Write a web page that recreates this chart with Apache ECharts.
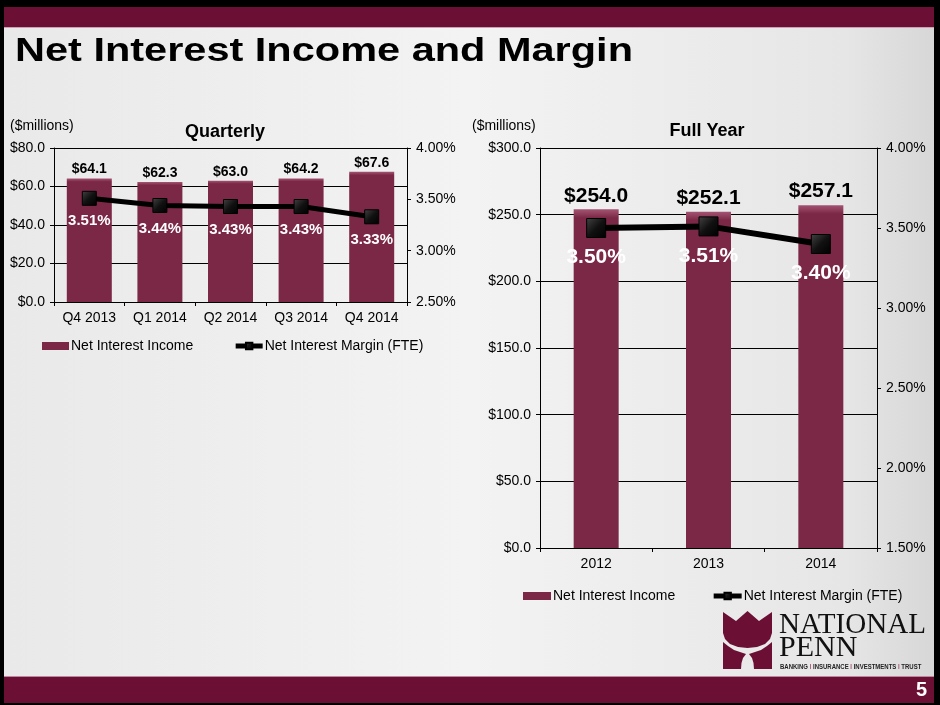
<!DOCTYPE html>
<html>
<head>
<meta charset="utf-8">
<title>Net Interest Income and Margin</title>
<script src="https://cdn.jsdelivr.net/npm/echarts@6/dist/echarts.min.js"></script>
<style>
  html, body { margin: 0; padding: 0; background: #000; }
  #chart { width: 940px; height: 705px; }
</style>
</head>
<body>
<div id="chart"></div>
<script>
// quarterly data
var quarters = ['Q4 2013', 'Q1 2014', 'Q2 2014', 'Q3 2014', 'Q4 2014'];
var quarterlyIncome = [64.1, 62.3, 63.0, 64.2, 67.6];
var quarterlyMargin = [3.51, 3.44, 3.43, 3.43, 3.33];

// full year data
var years = ['2012', '2013', '2014'];
var yearlyIncome = [254.0, 252.1, 257.1];
var yearlyMargin = [3.50, 3.51, 3.40];

var MAROON = '#6c0f35';
var BAR = '#7b2846';
var FONT = 'Liberation Sans, Arial, sans-serif';

function money(v) { return '$' + v.toFixed(1); }
function pct(v) { return v.toFixed(2) + '%'; }

var barColor = new echarts.graphic.LinearGradient(0, 0, 0, 1, [
    { offset: 0, color: '#a35472' },
    { offset: 0.025, color: BAR },
    { offset: 1, color: BAR }
]);

var markColor = new echarts.graphic.LinearGradient(0, 0, 1, 1, [
    { offset: 0, color: '#444' },
    { offset: 0.5, color: '#111' },
    { offset: 1, color: '#000' }
]);

function axisX(grid, data) {
    return {
        type: 'category', gridIndex: grid, data: data,
        axisLine: { lineStyle: { color: '#000', width: 1 } },
        axisTick: { show: true, length: 4, lineStyle: { color: '#000' } },
        axisLabel: { color: '#000', fontSize: 14, fontFamily: FONT, margin: 9 },
        splitLine: { show: false }
    };
}

function axisMoney(grid, max, step) {
    return {
        type: 'value', gridIndex: grid, min: 0, max: max, interval: step,
        axisLine: { show: true, lineStyle: { color: '#000' } },
        axisTick: { show: true, length: 4, lineStyle: { color: '#000' } },
        axisLabel: { color: '#000', fontSize: 14, fontFamily: FONT, margin: 9, formatter: money },
        splitLine: { show: true, lineStyle: { color: '#000', width: 1 } }
    };
}

function axisPct(grid, min, max) {
    return {
        type: 'value', gridIndex: grid, position: 'right', min: min, max: max, interval: 0.5,
        axisLine: { show: true, lineStyle: { color: '#000' } },
        axisTick: { show: true, length: 4, lineStyle: { color: '#000' } },
        axisLabel: { color: '#000', fontSize: 14, fontFamily: FONT, margin: 9, formatter: pct },
        splitLine: { show: false }
    };
}

var chart = echarts.init(document.getElementById('chart'), null, { renderer: 'canvas' });

var legendText = { color: '#000', fontSize: 14, fontFamily: FONT, padding: [0, 0, 0, -3] };
var legendItems = [
    { name: 'Net Interest Income', icon: 'rect' },
    { name: 'Net Interest Margin (FTE)' }
];

var option = {
    animation: false,
    backgroundColor: new echarts.graphic.LinearGradient(0, 0, 1, 0, [
        { offset: 0, color: '#e9e9e9' },
        { offset: 0.5, color: '#f3f3f3' },
        { offset: 0.9, color: '#e6e6e6' },
        { offset: 1, color: '#d6d6d6' }
    ]),
    textStyle: { fontFamily: FONT },
    grid: [
        { left: 54, top: 148, width: 353, height: 154 },
        { left: 540, top: 148, width: 337, height: 400 }
    ],
    xAxis: [axisX(0, quarters), axisX(1, years)],
    yAxis: [
        axisMoney(0, 80, 20),
        axisPct(0, 2.5, 4.0),
        axisMoney(1, 300, 50),
        axisPct(1, 1.5, 4.0)
    ],
    legend: [
        {
            left: 37, top: 334, itemWidth: 27, itemHeight: 8, itemGap: 40,
            lineStyle: { width: 5, color: '#000' },
            textStyle: legendText,
            data: legendItems
        },
        {
            left: 518, top: 584, itemWidth: 28, itemHeight: 8, itemGap: 36,
            lineStyle: { width: 5, color: '#000' },
            textStyle: legendText,
            data: legendItems
        }
    ],
    series: [
        {
            name: 'Net Interest Income', type: 'bar', xAxisIndex: 0, yAxisIndex: 0,
            data: quarterlyIncome, barWidth: 45,
            itemStyle: { color: barColor },
            label: {
                show: true, position: 'top', distance: 2, color: '#000',
                fontSize: 14, fontWeight: 'bold', fontFamily: FONT,
                formatter: function (p) { return money(p.value); }
            }
        },
        {
            name: 'Net Interest Margin (FTE)', type: 'line', xAxisIndex: 0, yAxisIndex: 1,
            data: quarterlyMargin, symbol: 'rect', symbolSize: 14,
            lineStyle: { color: '#000', width: 5 },
            itemStyle: { color: markColor, borderColor: '#000', borderWidth: 1 },
            label: {
                show: true, position: 'bottom', distance: 8, color: '#fff',
                fontSize: 15, fontWeight: 'bold', fontFamily: FONT,
                formatter: function (p) { return pct(p.value); }
            }
        },
        {
            name: 'Net Interest Income', type: 'bar', xAxisIndex: 1, yAxisIndex: 2,
            data: yearlyIncome, barWidth: 45,
            itemStyle: { color: barColor },
            label: {
                show: true, position: 'top', distance: 3, color: '#000',
                fontSize: 21, fontWeight: 'bold', fontFamily: FONT,
                formatter: function (p) { return money(p.value); }
            }
        },
        {
            name: 'Net Interest Margin (FTE)', type: 'line', xAxisIndex: 1, yAxisIndex: 3,
            data: yearlyMargin, symbol: 'rect', symbolSize: 19,
            lineStyle: { color: '#000', width: 6 },
            itemStyle: { color: markColor, borderColor: '#000', borderWidth: 1 },
            label: {
                show: true, position: 'bottom', distance: 9, color: '#fff',
                fontSize: 21, fontWeight: 'bold', fontFamily: FONT,
                formatter: function (p) { return pct(p.value); }
            }
        }
    ],
    graphic: [
        // frame and bands
        { type: 'rect', shape: { x: 0, y: 0, width: 940, height: 7 }, style: { fill: '#000' } },
        { type: 'rect', shape: { x: 0, y: 7, width: 940, height: 20 }, style: { fill: MAROON } },
        { type: 'rect', shape: { x: 0, y: 27, width: 940, height: 1 }, style: { fill: '#c9a3b2' } },
        { type: 'rect', shape: { x: 0, y: 677, width: 940, height: 26 }, style: { fill: MAROON } },
        { type: 'rect', shape: { x: 0, y: 676, width: 940, height: 1 }, style: { fill: '#b88a9c' } },
        { type: 'rect', shape: { x: 0, y: 703, width: 940, height: 2 }, style: { fill: '#000' } },
        { type: 'rect', shape: { x: 0, y: 0, width: 4, height: 705 }, style: { fill: '#000' } },
        { type: 'rect', shape: { x: 934, y: 0, width: 6, height: 705 }, style: { fill: '#000' } },
        // page title
        {
            type: 'text', x: 15, y: 52, scaleY: 0.78,
            style: { text: 'Net Interest Income and Margin', fill: '#000', font: 'bold 41.5px ' + FONT, verticalAlign: 'middle' }
        },
        // chart titles
        { type: 'text', x: 225, y: 132, style: { text: 'Quarterly', fill: '#000', font: 'bold 18px ' + FONT, align: 'center', verticalAlign: 'middle' } },
        { type: 'text', x: 707, y: 131, style: { text: 'Full Year', fill: '#000', font: 'bold 18px ' + FONT, align: 'center', verticalAlign: 'middle' } },
        { type: 'text', x: 10, y: 126, style: { text: '($millions)', fill: '#000', font: '14px ' + FONT, verticalAlign: 'middle' } },
        { type: 'text', x: 472, y: 126, style: { text: '($millions)', fill: '#000', font: '14px ' + FONT, verticalAlign: 'middle' } },
        // page number
        { type: 'text', x: 927, y: 690, style: { text: '5', fill: '#fff', font: 'bold 20px ' + FONT, align: 'right', verticalAlign: 'middle' } },
        // logo
        {
            type: 'polygon',
            shape: { points: [[723, 612], [736, 621], [747.5, 611], [759, 621], [772, 612], [772, 633], [770, 639], [765, 644], [757, 647], [747.5, 648], [738, 647], [730, 644], [725, 639], [723, 633]] },
            style: { fill: MAROON }
        },
        {
            type: 'polygon',
            shape: { points: [[723, 642], [728, 646], [734, 650], [740, 652], [746, 654], [743, 658], [741.5, 663], [741, 669], [723, 669]] },
            style: { fill: MAROON }
        },
        {
            type: 'polygon',
            shape: { points: [[772, 642], [767, 646], [761, 650], [755, 652], [749, 654], [752, 658], [753.5, 663], [754, 669], [772, 669]] },
            style: { fill: MAROON }
        },
        {
            type: 'text', x: 779, y: 625, scaleX: 0.97,
            style: { text: 'NATIONAL', fill: '#111', font: '30px Liberation Serif, Times New Roman, serif', verticalAlign: 'middle' }
        },
        {
            type: 'text', x: 779, y: 648,
            style: { text: 'PENN', fill: '#111', font: '30px Liberation Serif, Times New Roman, serif', verticalAlign: 'middle' }
        },
        {
            type: 'text', x: 780, y: 667, scaleX: 0.8,
            style: {
                text: 'BANKING {s|I} INSURANCE {s|I} INVESTMENTS {s|I} TRUST',
                fill: '#222', font: 'bold 7.5px ' + FONT, verticalAlign: 'middle',
                rich: { s: { fill: '#a35472', font: 'bold 7.5px ' + FONT } }
            }
        }
    ]
};

chart.setOption(option);
</script>
</body>
</html>
